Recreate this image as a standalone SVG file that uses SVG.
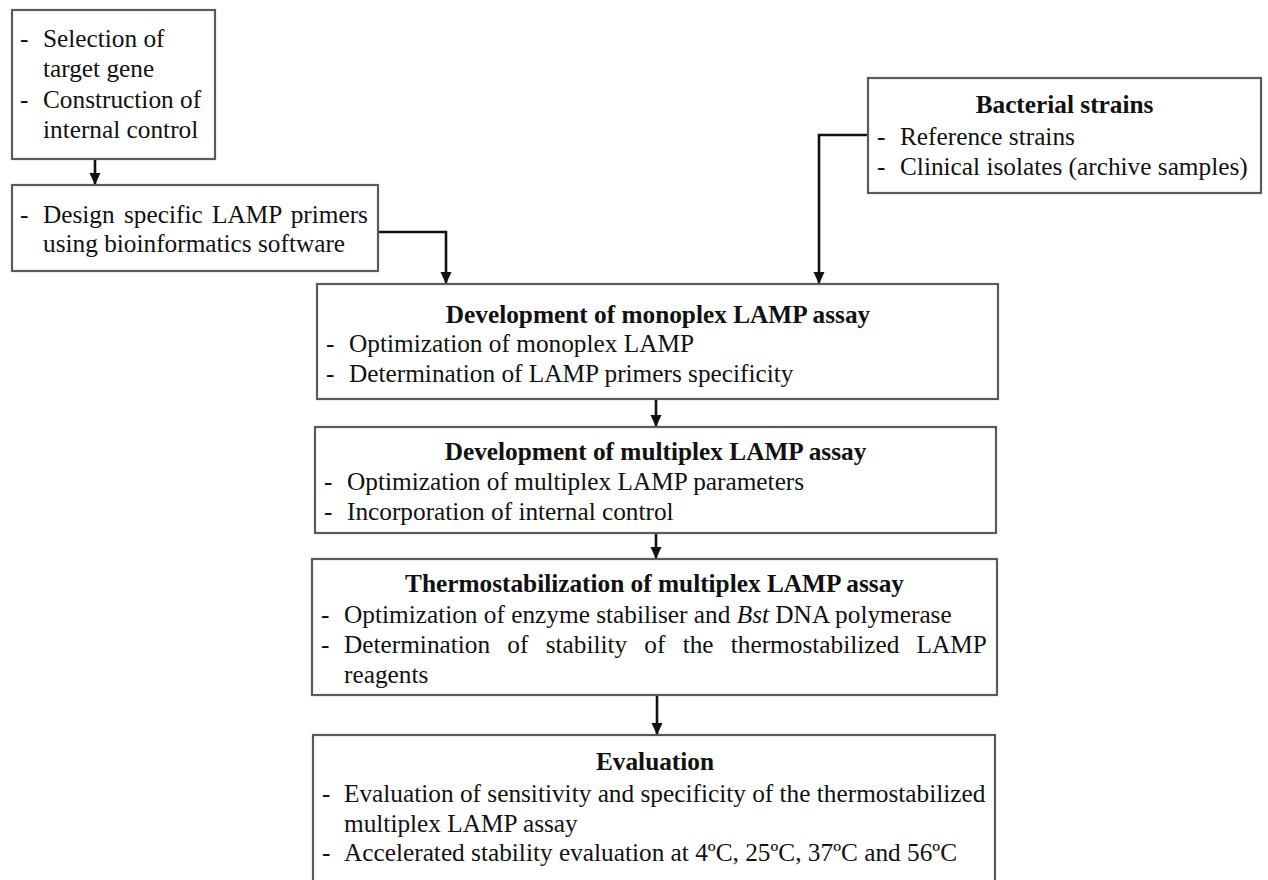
<svg xmlns="http://www.w3.org/2000/svg" width="1268" height="880" viewBox="0 0 1268 880">
<defs>
<style>
.box{fill:#fff;stroke:#5a5a5a;stroke-width:2.2}
.t{font-family:"Liberation Serif","Times New Roman",serif;font-size:25.3px;fill:#111}
.b{font-weight:bold;text-anchor:middle}
.c{fill:none;stroke:#111;stroke-width:2.6}
</style>
<marker id="ah" markerUnits="userSpaceOnUse" markerWidth="12" markerHeight="12" viewBox="0 0 12 12" refX="12" refY="6" orient="auto">
<path d="M0,0.5 L12,6 L0,11.5 z" fill="#111"/>
</marker>
</defs>
<rect width="1268" height="880" fill="#fff"/>

<g id="connectors">
<path class="c" d="M95,159 L95,185" marker-end="url(#ah)"/>
<path class="c" d="M378,232 L446,232 L446,284" marker-end="url(#ah)"/>
<path class="c" d="M868,135 L819,135 L819,284" marker-end="url(#ah)"/>
<path class="c" d="M656,399 L656,427" marker-end="url(#ah)"/>
<path class="c" d="M656,533 L656,559" marker-end="url(#ah)"/>
<path class="c" d="M657,695 L657,735" marker-end="url(#ah)"/>
</g>

<g id="node-target">
<rect class="box" x="12" y="10" width="203" height="149"/>
<text class="t" x="20" y="47">-</text>
<text class="t" x="43" y="47">Selection of</text>
<text class="t" x="43" y="77">target gene</text>
<text class="t" x="20" y="108">-</text>
<text class="t" x="43" y="108">Construction of</text>
<text class="t" x="43" y="138">internal control</text>
</g>

<g id="node-primers">
<rect class="box" x="12" y="185" width="366" height="86"/>
<text class="t" x="20" y="223">-</text>
<text class="t" x="43" y="223" word-spacing="3">Design specific LAMP primers</text>
<text class="t" x="43" y="252">using bioinformatics software</text>
</g>

<g id="node-bacterial">
<rect class="box" x="868" y="78" width="393" height="115"/>
<text class="t b" x="1064.5" y="113">Bacterial strains</text>
<text class="t" x="877" y="145">-</text>
<text class="t" x="900" y="145">Reference strains</text>
<text class="t" x="877" y="175">-</text>
<text class="t" x="900" y="175">Clinical isolates (archive samples)</text>
</g>

<g id="node-monoplex">
<rect class="box" x="317" y="284" width="681" height="115"/>
<text class="t b" x="658" y="323">Development of monoplex LAMP assay</text>
<text class="t" x="326" y="352">-</text>
<text class="t" x="349" y="352">Optimization of monoplex LAMP</text>
<text class="t" x="326" y="382">-</text>
<text class="t" x="349" y="382">Determination of LAMP primers specificity</text>
</g>

<g id="node-multiplex">
<rect class="box" x="315" y="427" width="681" height="106"/>
<text class="t b" x="655.5" y="460">Development of multiplex LAMP assay</text>
<text class="t" x="324" y="490">-</text>
<text class="t" x="347" y="490">Optimization of multiplex LAMP parameters</text>
<text class="t" x="324" y="520">-</text>
<text class="t" x="347" y="520">Incorporation of internal control</text>
</g>

<g id="node-thermo">
<rect class="box" x="312" y="559" width="685" height="136"/>
<text class="t b" x="654.5" y="592">Thermostabilization of multiplex LAMP assay</text>
<text class="t" x="321" y="623">-</text>
<text class="t" x="344" y="623">Optimization of enzyme stabiliser and <tspan font-style="italic">Bst</tspan> DNA polymerase</text>
<text class="t" x="321" y="653">-</text>
<text class="t" x="344" y="653" word-spacing="10.9">Determination of stability of the thermostabilized LAMP</text>
<text class="t" x="344" y="683">reagents</text>
</g>

<g id="node-evaluation">
<rect class="box" x="313" y="735" width="682" height="170"/>
<text class="t b" x="655" y="770">Evaluation</text>
<text class="t" x="322" y="802">-</text>
<text class="t" x="344" y="802">Evaluation of sensitivity and specificity of the thermostabilized</text>
<text class="t" x="344" y="832">multiplex LAMP assay</text>
<text class="t" x="322" y="861">-</text>
<text class="t" x="344" y="861">Accelerated stability evaluation at 4ºC, 25ºC, 37ºC and 56ºC</text>
</g>
</svg>
